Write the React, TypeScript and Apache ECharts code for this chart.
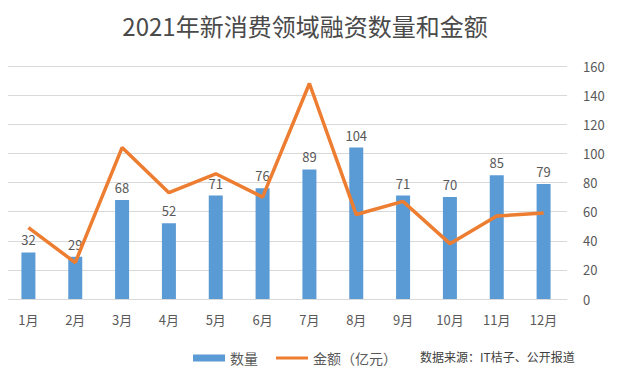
import React, { useEffect, useRef } from "react";
import * as echarts from "echarts";

const title = "2021年新消费领域融资数量和金额";
const months = ["1月", "2月", "3月", "4月", "5月", "6月", "7月", "8月", "9月", "10月", "11月", "12月"];
const counts = [32, 29, 68, 52, 71, 76, 89, 104, 71, 70, 85, 79];
const amounts = [49, 25, 104, 73, 86, 70, 148, 58, 67, 38, 57, 59];
const seriesNames = ["数量", "金额（亿元）"];
const sourceText = "数据来源：IT桔子、公开报道";

const FONT = "'Noto Sans CJK SC', 'Noto Sans', sans-serif";
const TXT = "#595959";

export default function App() {
  const ref = useRef<HTMLDivElement>(null);
  useEffect(() => {
    if (!ref.current) return;
    const chart = echarts.init(ref.current, null, { renderer: "svg" });
    chart.setOption({
      animation: false,
      backgroundColor: "#ffffff",
      textStyle: { fontFamily: FONT },
      title: {
        text: title,
        left: 300,
        textAlign: "center",
        top: 8,
        textStyle: { fontSize: 24, fontWeight: "normal", color: "#4a4a4a", fontFamily: FONT },
      },
      legend: {
        left: 188,
        top: 346,
        itemWidth: 32,
        itemHeight: 7,
        itemGap: 18,
        textStyle: { fontSize: 14, color: TXT, fontFamily: FONT },
        data: [
          { name: seriesNames[0], icon: "rect" },
          { name: seriesNames[1], icon: "path://M0,0 L32,0 L32,3 L0,3 Z" },
        ],
      },
      graphic: [
        {
          type: "text",
          left: 420,
          top: 350,
          style: { text: sourceText, fontSize: 12, fill: "#404040", fontFamily: FONT },
        },
      ],
      grid: { left: 5, right: 73, top: 66, bottom: 84 },
      xAxis: {
        type: "category",
        data: months,
        axisLine: { show: true, lineStyle: { color: "#d9d9d9" } },
        axisTick: { show: false },
        axisLabel: { fontSize: 13, color: TXT, margin: 14, fontFamily: FONT },
      },
      yAxis: {
        type: "value",
        position: "right",
        min: 0,
        max: 160,
        interval: 20,
        axisLine: { show: false },
        axisTick: { show: false },
        axisLabel: { fontSize: 13, color: TXT, margin: 16, fontFamily: FONT },
        splitLine: { lineStyle: { color: "#d9d9d9", width: 1 } },
      },
      series: [
        {
          name: seriesNames[0],
          type: "bar",
          data: counts,
          barWidth: 14,
          itemStyle: { color: "#5B9BD5" },
          label: { show: true, position: "top", fontSize: 13, color: TXT, distance: 6, fontFamily: FONT },
          z: 2,
        },
        {
          name: seriesNames[1],
          type: "line",
          data: amounts,
          symbol: "none",
          lineStyle: { color: "#ED7D31", width: 3.5 },
          itemStyle: { color: "#ED7D31" },
          z: 5,
        },
      ],
    });
    return () => chart.dispose();
  }, []);
  return <div ref={ref} style={{ width: 640, height: 383, margin: -8 }} />;
}
